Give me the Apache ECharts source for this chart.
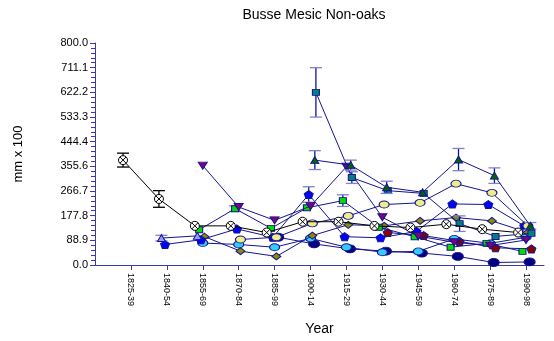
<!DOCTYPE html>
<html><head><meta charset="utf-8">
<script src="https://cdn.jsdelivr.net/npm/echarts@6/dist/echarts.min.js"></script>
<style>html,body{margin:0;padding:0;background:#fff}#c{width:554px;height:341px}</style>
</head><body><div id="c"></div>
<script>
const categories = ['1825-39','1840-54','1855-69','1870-84','1885-99','1900-14','1915-29','1930-44','1945-59','1960-74','1975-89','1990-98'];
const yTickStep = 800 / 9;
const _ = null;
// series values (mm x 100), one entry per category
const blackCircle  = [378,238,141,141,117,156,156,141,135,147,129,117];
const purpleTri    = [_,_,358,209,161,212,354,172,104,82,70,90];
const greenSquare  = [_,_,127,203,132,206,232,136,102,64,78,49];
const tealSquare   = [_,_,_,_,_,622,315,268,258,149,103,114];
const greenTri     = [_,_,_,_,_,378,360,280,262,380,322,141];
const bluePentagon = [_,74,91,130,100,254,102,98,121,220,218,141];
const cyanEllipse  = [_,_,79,74,64,96,64,46,49,94,78,100];
const oliveDiamond = [_,_,102,50,31,106,145,141,159,171,159,117];
const navyCircle   = [_,_,_,_,100,76,58,50,43,31,9,11];
const redPentagon  = [_,_,_,_,_,_,_,117,106,85,62,58];
const yellowRing   = [_,_,_,92,100,150,177,218,224,293,260,141];
const lavenderTri  = [_,97,105,_,_,_,_,_,_,_,_,_];
// standard errors
const errBlack  = [25,30,_,_,_,_,_,_,_,_,_,_];
const errTeal   = [_,_,_,_,_,89,21,_,_,28,_,_];
const errGTri   = [_,_,_,_,_,34,18,22,_,40,28,12];
const errBlue   = [_,_,_,_,_,28,_,_,_,_,_,_];
const errGreen  = [_,_,_,10,_,_,21,_,_,_,_,_];
const errLav    = [_,10,_,_,_,_,_,_,_,_,_,_];

const NAVY = '#14148f';
const ELL = 'path://M0,4A6,4,0,1,1,12,4A6,4,0,1,1,0,4Z';
const PENT = 'path://M5,0L10,4L8,10L2,10L0,4Z';
const CROSSCIRC = 'path://M0,5A5,5,0,1,1,10,5A5,5,0,1,1,0,5Z M1.6,1.6L8.4,8.4 M8.4,1.6L1.6,8.4';
const defs = [
  {d: redPentagon, e: null, fill:'#8b0000', sym:PENT, size:[9,8], jit:0.15},
  {d: navyCircle, e: null, fill:'#000080', sym:ELL, size:[11,8], jit:0.1},
  {d: cyanEllipse, e: null, fill:'#33ccff', sym:ELL, size:[10,7], jit:0.0},
  {d: oliveDiamond, e: null, fill:'#8b8b00', sym:'diamond', size:[9,7], jit:0.05},
  {d: bluePentagon, e: errBlue, fill:'#0000ff', sym:PENT, size:[9,8], jit:-0.05},
  {d: lavenderTri, e: errLav, fill:'#9999ff', sym:'triangle', size:[8,7], jit:-0.15},
  {d: yellowRing, e: null, fill:'#eeee88', sym:ELL, size:[10,7], jit:0.05},
  {d: greenSquare, e: errGreen, fill:'#00dd00', sym:'rect', size:[7,6], jit:-0.1},
  {d: purpleTri, e: null, fill:'#800080', sym:'path://M0,0L10,0L5,9Z', size:[9,7], jit:0.0},
  {d: tealSquare, e: errTeal, fill:'#008080', sym:'rect', size:[7,6], jit:0.15},
  {d: greenTri, e: errGTri, fill:'#006400', sym:'triangle', size:[8,7], jit:0.12},
  {d: blackCircle, e: errBlack, fill:'#ffffff', sym:CROSSCIRC, size:[9,9], jit:-0.22, black:true}
];

const series = [];
defs.forEach(function(s, k){
  const col = s.black ? '#000000' : NAVY;
  const pts = [];
  s.d.forEach(function(v,i){ if (v !== null) pts.push([i + s.jit, v]); });
  if (s.e) {
    const eb = [];
    s.d.forEach(function(v,i){ if (v !== null && s.e[i] !== null) eb.push([i + s.jit, v, s.e[i]]); });
    series.push({
      type:'custom', z: 2+k*2, silent:true, data: eb,
      renderItem: function(params, api){
        const x = api.value(0), v = api.value(1), e = api.value(2);
        const top = api.coord([x, v+e]), bot = api.coord([x, v-e]);
        const capCol = s.black ? '#000000' : '#8080cc';
        return {type:'group', children:[
          {type:'line', shape:{x1:top[0],y1:top[1],x2:bot[0],y2:bot[1]}, style:{stroke: s.black?'#000':'#1010a0', lineWidth:1.3}},
          {type:'line', shape:{x1:top[0]-6,y1:top[1],x2:top[0]+6,y2:top[1]}, style:{stroke:capCol, lineWidth:1.3}},
          {type:'line', shape:{x1:bot[0]-6,y1:bot[1],x2:bot[0]+6,y2:bot[1]}, style:{stroke:capCol, lineWidth:1.3}}
        ]};
      }
    });
  }
  series.push({
    type:'line', z: 3+k*2, data: pts, symbol: s.sym, symbolSize: s.size, showAllSymbol:true,
    lineStyle:{color: col, width: 1}, itemStyle:{color: s.fill, borderColor: col, borderWidth:1}, animation:false
  });
});

const chart = echarts.init(document.getElementById('c'), null, {renderer:'canvas'});
chart.setOption({
  animation:false,
  backgroundColor:'#ffffff',
  title:{text:'Busse Mesic Non-oaks', left:309, top:3, textAlign:'center',
    textStyle:{fontFamily:'Liberation Sans', fontSize:14, fontWeight:'normal', color:'#000'}},
  grid:{left:95, right:10, top:43, bottom:73, containLabel:false},
  xAxis:{type:'value', min:-1, max:11.5, interval:1,
    name:'Year', nameLocation:'middle', nameGap:57,
    nameTextStyle:{fontFamily:'Liberation Sans', fontSize:14, color:'#000'},
    axisLine:{show:true, onZero:false, lineStyle:{color:'#3a3aaa', width:1}},
    axisTick:{show:true, length:5, customValues:categories.map(function(c,i){return i;}), lineStyle:{color:'#3a3aaa'}},
    axisLabel:{rotate:-90, margin:8, fontFamily:'Liberation Sans', fontSize:9, color:'#000',
      customValues:categories.map(function(c,i){return i;}),
      formatter:function(v){ const i = Math.round(v); return categories[i] || ''; }},
    splitLine:{show:false}},
  yAxis:{type:'value', min:0, max:800, interval:yTickStep,
    name:'mm x 100', nameLocation:'middle', nameGap:70, nameRotate:90,
    nameTextStyle:{fontFamily:'Liberation Sans', fontSize:13, color:'#000'},
    axisLine:{show:true, onZero:false, lineStyle:{color:'#3a3aaa', width:1}},
    axisTick:{show:true, length:5, lineStyle:{color:'#3a3aaa'}},
    minorTick:{show:true, splitNumber:5, length:4, lineStyle:{color:'#3a3aaa'}},
    axisLabel:{margin:7, fontFamily:'Liberation Sans', fontSize:11, color:'#000',
      formatter:function(v){ return v.toFixed(1); }},
    splitLine:{show:false}},
  series: series
});
</script></body></html>
